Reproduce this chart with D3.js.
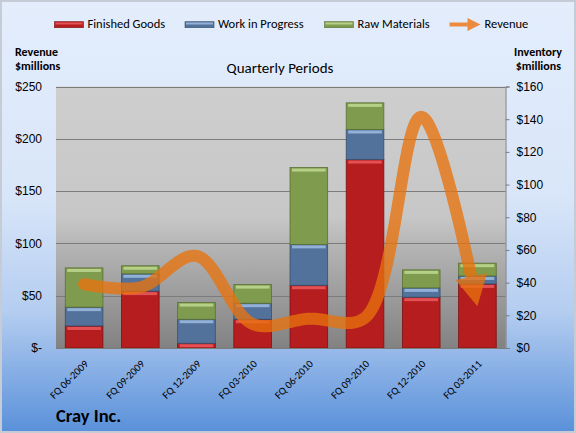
<!DOCTYPE html>
<html>
<head>
<meta charset="utf-8">
<script src="https://cdn.jsdelivr.net/npm/d3@7"></script>
<style>
  html, body { margin: 0; padding: 0; }
  svg { display: block; font-family: Carlito, Calibri, Lato, "Open Sans", sans-serif; }
</style>
</head>
<body>
<svg width="576" height="433"></svg>
<script>
// dados (milhoes de dolares)
var periodos = ["FQ 06-2009", "FQ 09-2009", "FQ 12-2009", "FQ 03-2010",
                "FQ 06-2010", "FQ 09-2010", "FQ 12-2010", "FQ 03-2011"];
var finishedGoods = [13.5, 34.8, 2.9, 17.6, 38.4, 115.3, 31.1, 39.2];
var workInProgress = [11.5, 10.6, 14.7, 9.8, 25.0, 18.4, 5.7, 4.9];
var rawMaterials = [24.0, 4.9, 10.2, 11.4, 47.0, 16.3, 11.0, 7.8];
var revenue = [61, 58, 88, 23, 28, 29, 221, 40];
var revenueTicks = [0, 50, 100, 150, 200, 250];
var inventoryTicks = [0, 20, 40, 60, 80, 100, 120, 140, 160];

var series = [
    {nome: "Finished Goods", valores: finishedGoods, cor: "#b51d1f", luz: "#e8585a", sombra: "#7d1214"},
    {nome: "Work in Progress", valores: workInProgress, cor: "#52729b", luz: "#9ab8de", sombra: "#384f6e"},
    {nome: "Raw Materials", valores: rawMaterials, cor: "#7f9b4e", luz: "#bdd68e", sombra: "#5a7034"}
];

var svg = d3.select("svg");
var W = 576, H = 433;
var m = {left: 56, right: 505.5, top: 86.5, bottom: 348};

var defs = svg.append("defs");

var bg = defs.append("linearGradient").attr("id", "bg")
    .attr("x1", 0).attr("y1", 0).attr("x2", 0).attr("y2", 1);
[["0%", "#e3edfc"], ["45%", "#d9e6f9"], ["72%", "#b4cdf0"], ["100%", "#5a91da"]].forEach(function (s) {
    bg.append("stop").attr("offset", s[0]).attr("stop-color", s[1]);
});

var plotBg = defs.append("linearGradient").attr("id", "plotBg")
    .attr("x1", 0).attr("y1", 0).attr("x2", 0).attr("y2", 1);
[["0%", "#cecece"], ["50%", "#c7c7c7"], ["62%", "#b3b3b3"], ["100%", "#828282"]].forEach(function (s) {
    plotBg.append("stop").attr("offset", s[0]).attr("stop-color", s[1]);
});

// fundo do grafico
svg.append("rect")
    .attr("x", 1).attr("y", 1)
    .attr("width", W - 2).attr("height", H - 2)
    .attr("fill", "url(#bg)")
    .attr("stroke", "#c5ccd6")
    .attr("stroke-width", 2);

svg.append("rect")
    .attr("x", m.left).attr("y", m.top)
    .attr("width", m.right - m.left).attr("height", m.bottom - m.top)
    .attr("fill", "url(#plotBg)");

// escalas
var x = d3.scaleBand()
    .domain(periodos)
    .range([m.left, m.right])
    .paddingInner(0.33)
    .paddingOuter(0.165);

var yRev = d3.scaleLinear().domain([0, 250]).range([m.bottom, m.top]);
var yInv = d3.scaleLinear().domain([0, 160]).range([m.bottom, m.top]);

// linhas de grade
svg.append("g")
    .selectAll("line")
    .data(revenueTicks.filter(function (d) { return d > 0; }))
    .enter().append("line")
    .attr("x1", m.left).attr("x2", m.right)
    .attr("y1", function (d) { return Math.round(yRev(d)) + 0.5; })
    .attr("y2", function (d) { return Math.round(yRev(d)) + 0.5; })
    .attr("stroke", "#7c7c7c")
    .attr("stroke-width", 1);

// eixo esquerdo (receita)
var axisLeft = svg.append("g")
    .attr("transform", "translate(" + (m.left - 11) + ",0)")
    .call(d3.axisLeft(yRev).tickValues(revenueTicks).tickSize(0)
        .tickFormat(function (d) { return d === 0 ? "$-" : "$" + d; }));
axisLeft.select(".domain").remove();
axisLeft.selectAll("text").attr("font-size", 12).attr("fill", "#000").attr("font-family", null);

// eixo direito (estoque)
var axisRight = svg.append("g")
    .attr("transform", "translate(" + m.right + ",0)")
    .call(d3.axisRight(yInv).tickValues(inventoryTicks).tickSize(4).tickPadding(7)
        .tickFormat(function (d) { return "$" + d; }));
axisRight.select(".domain").attr("stroke", "#7c7c7c");
axisRight.selectAll(".tick line").attr("stroke", "#7c7c7c");
axisRight.selectAll("text").attr("font-size", 12).attr("fill", "#000").attr("font-family", null);

// barras empilhadas
var tabela = periodos.map(function (p, i) {
    var o = {periodo: p};
    series.forEach(function (s) { o[s.nome] = s.valores[i]; });
    return o;
});
var stack = d3.stack().keys(series.map(function (s) { return s.nome; }))(tabela);

var gBars = svg.append("g");
stack.forEach(function (camada, k) {
    var s = series[k];
    var g = gBars.append("g");
    var seg = g.selectAll("g")
        .data(camada)
        .enter().append("g");

    seg.append("rect")
        .attr("x", function (d) { return x(d.data.periodo); })
        .attr("y", function (d) { return yInv(d[1]); })
        .attr("width", x.bandwidth())
        .attr("height", function (d) { return yInv(d[0]) - yInv(d[1]); })
        .attr("fill", s.cor)
        .attr("stroke", s.sombra)
        .attr("stroke-width", 0.8);

    // brilho no topo do segmento
    seg.append("rect")
        .attr("x", function (d) { return x(d.data.periodo) + 2; })
        .attr("y", function (d) { return yInv(d[1]) + 1; })
        .attr("width", x.bandwidth() - 4)
        .attr("height", function (d) { return Math.min(3, yInv(d[0]) - yInv(d[1]) - 1); })
        .attr("fill", s.luz)
        .attr("opacity", 0.9);
});

// linha de eixo inferior
svg.append("line")
    .attr("x1", m.left).attr("x2", m.right)
    .attr("y1", m.bottom + 0.5).attr("y2", m.bottom + 0.5)
    .attr("stroke", "#7c7c7c");

// linha de receita suavizada com seta
var linha = d3.line()
    .x(function (d, i) { return x(periodos[i]) + x.bandwidth() / 2; })
    .y(function (d) { return yRev(d); })
    .curve(d3.curveCatmullRom.alpha(0.5));

var temp = svg.append("path").attr("d", linha(revenue)).attr("fill", "none");
var total = temp.node().getTotalLength();
var cabeca = 30;
var pts = [];
for (var t = 0; t <= total - cabeca + 0.01; t += 1) {
    var p = temp.node().getPointAtLength(t);
    pts.push([p.x, p.y]);
}
var pBase = temp.node().getPointAtLength(total - cabeca);
var pTip = temp.node().getPointAtLength(total);
temp.remove();

var gRev = svg.append("g").attr("opacity", 0.78);
gRev.append("path")
    .attr("d", d3.line()(pts))
    .attr("fill", "none")
    .attr("stroke", "#e8720e")
    .attr("stroke-width", 12)
    .attr("stroke-linecap", "round")
    .attr("stroke-linejoin", "round");

var dx = pTip.x - pBase.x, dy = pTip.y - pBase.y;
var len = Math.sqrt(dx * dx + dy * dy);
var nx = -dy / len, ny = dx / len;
var meia = 16;
gRev.append("path")
    .attr("d", "M" + pTip.x + "," + pTip.y +
        "L" + (pBase.x + nx * meia) + "," + (pBase.y + ny * meia) +
        "L" + (pBase.x - nx * meia) + "," + (pBase.y - ny * meia) + "Z")
    .attr("fill", "#e8720e");

// rotulos do eixo x
svg.append("g")
    .selectAll("text")
    .data(periodos)
    .enter().append("text")
    .attr("transform", function (d) {
        return "translate(" + (x(d) + x.bandwidth() / 2 + 5) + "," + (m.bottom + 16.5) + ") rotate(-45)";
    })
    .attr("text-anchor", "end")
    .attr("font-size", 10.5)
    .text(function (d) { return d; });

// titulos
svg.append("text").attr("x", 280).attr("y", 73).attr("text-anchor", "middle")
    .attr("font-size", 15).text("Quarterly Periods");

var tituloEsq = svg.append("text").attr("font-size", 12).attr("font-weight", "bold");
tituloEsq.append("tspan").attr("x", 15).attr("y", 55.5).text("Revenue");
tituloEsq.append("tspan").attr("x", 15).attr("y", 70).text("$millions");

var tituloDir = svg.append("text").attr("text-anchor", "end").attr("font-size", 12).attr("font-weight", "bold");
tituloDir.append("tspan").attr("x", 562).attr("y", 55.5).text("Inventory");
tituloDir.append("tspan").attr("x", 561).attr("y", 70).text("$millions");

svg.append("text").attr("x", 56).attr("y", 422)
    .attr("font-size", 18.5).attr("font-weight", "bold").text("Cray Inc.");

// legenda
var legenda = [
    {nome: "Finished Goods", x: 54.5, tipo: 0},
    {nome: "Work in Progress", x: 185, tipo: 1},
    {nome: "Raw Materials", x: 324.5, tipo: 2},
    {nome: "Revenue", x: 449.5, tipo: 3}
];
var gLeg = svg.append("g");
legenda.forEach(function (l) {
    if (l.tipo < 3) {
        var s = series[l.tipo];
        gLeg.append("rect").attr("x", l.x).attr("y", 21.7).attr("width", 29).attr("height", 6)
            .attr("fill", s.cor).attr("stroke", s.sombra).attr("stroke-width", 0.6);
        gLeg.append("rect").attr("x", l.x + 1).attr("y", 22.5).attr("width", 27).attr("height", 2)
            .attr("fill", s.luz).attr("opacity", 0.9);
    } else {
        gLeg.append("line").attr("x1", l.x).attr("x2", l.x + 20).attr("y1", 24.5).attr("y2", 24.5)
            .attr("stroke", "#ec8a3e").attr("stroke-width", 4);
        gLeg.append("path")
            .attr("d", "M" + (l.x + 31) + ",24.5L" + (l.x + 18) + ",18L" + (l.x + 18) + ",31Z")
            .attr("fill", "#ec8a3e");
    }
    gLeg.append("text").attr("x", l.x + (l.tipo < 3 ? 33 : 35)).attr("y", 28)
        .attr("font-size", 12.5).text(l.nome);
});
</script>
</body>
</html>
